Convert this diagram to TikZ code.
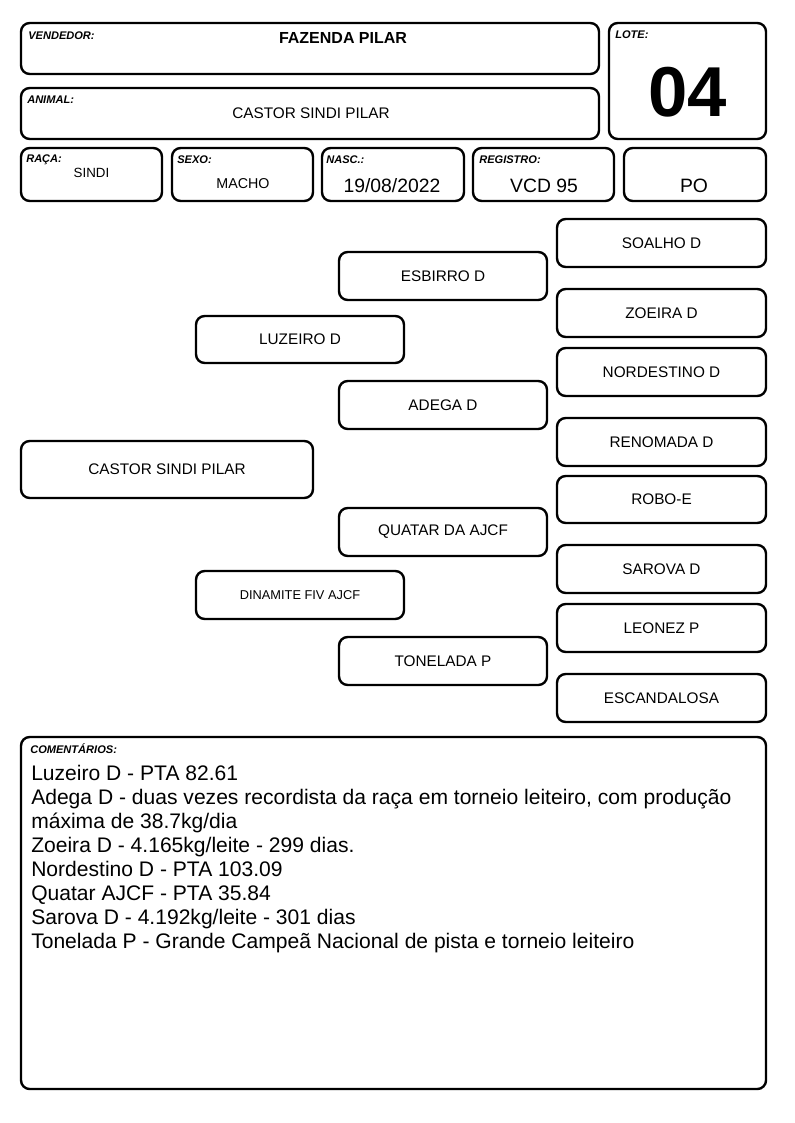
\documentclass[tikz,border=0pt]{standalone}
\usepackage{fontspec}
\setmainfont{Liberation Sans}
\newcommand\bx[7][]{\node[box,#1,minimum width={(#5-#3)*0.75pt},minimum height={(#6-#4)*0.75pt}] (#2) at ({(#3+#5)/2},{(#4+#6)/2}) {#7};}
\begin{document}
\begin{tikzpicture}[x=0.75pt,y=-0.75pt,
  box/.style={draw, line width=1.8pt, rounded corners=6.5pt, inner sep=0pt, align=center},
  lbl/.style={font=\fontsize{8.3}{9}\selectfont\bfseries\itshape, anchor=west, inner sep=0pt},
  ped/.style={font=\fontsize{11.5}{13}\selectfont},
  val/.style={inner sep=0pt},
  big/.style={inner sep=0pt, font=\fontsize{14.5}{16}\selectfont}]
\useasboundingbox (0,0) rectangle (794,1123);
% header boxes
\bx{vend}{21}{23}{599}{74}{}
\bx{lote}{609}{23}{766}{139}{}
\bx{anim}{21}{88}{599}{139}{}
\bx{raca}{21}{148}{162}{201}{}
\bx{sexo}{172}{148}{313}{201}{}
\bx{nasc}{322}{148}{464}{201}{}
\bx{regi}{473}{148}{614}{201}{}
\bx{po}{624}{148}{766}{201}{}
% header labels
\node[lbl] (lvend) at (28,35.5) {VENDEDOR:};
\node[lbl] (lanim) at (27,100) {ANIMAL:};
\node[lbl] (llote) at (615,35) {LOTE:};
\node[lbl] (lraca) at (26,160) {RAÇA:};
\node[lbl] (lsexo) at (177,160) {SEXO:};
\node[lbl] (lnasc) at (326,160) {NASC.:};
\node[lbl] (lregi) at (479,160) {REGISTRO:};
% header values
\node[val, font=\fontsize{12}{14}\selectfont\bfseries] (tvend) at (343,37.5) {FAZENDA PILAR};
\node[val, font=\fontsize{11.5}{13}\selectfont] (tanim) at (311,113) {CASTOR SINDI PILAR};
\node[val, font=\fontsize{53}{53}\selectfont\bfseries] (tlote) at (687.5,92.5) {04};
\node[val, font=\fontsize{10}{12}\selectfont] (traca) at (91.5,172.5) {SINDI};
\node[val, font=\fontsize{10.7}{12}\selectfont] (tsexo) at (243,183.5) {MACHO};
\node[big] (tnasc) at (392,186) {19/08/2022};
\node[big] (tregi) at (544,186) {VCD 95};
\node[big] (tpo) at (694,186) {PO};
% pedigree
\bx[ped]{animal}{21}{441}{313}{498}{CASTOR SINDI PILAR}
\bx[ped]{pai}{196}{316}{404}{363}{LUZEIRO D}
\bx[font=\fontsize{9.6}{11}\selectfont]{mae}{196}{571}{404}{619}{DINAMITE FIV AJCF}
\bx[ped]{avpp}{339}{252}{547}{300}{ESBIRRO D}
\bx[ped]{avpm}{339}{381}{547}{429}{ADEGA D}
\bx[ped]{avmp}{339}{508}{547}{556}{QUATAR DA AJCF}
\bx[ped]{avmm}{339}{637}{547}{685}{TONELADA P}
\bx[ped]{b1}{557}{219}{766}{267}{SOALHO D}
\bx[ped]{b2}{557}{289}{766}{337}{ZOEIRA D}
\bx[ped]{b3}{557}{348}{766}{396}{NORDESTINO D}
\bx[ped]{b4}{557}{418}{766}{466}{RENOMADA D}
\bx[ped]{b5}{557}{476}{766}{523}{ROBO-E}
\bx[ped]{b6}{557}{545}{766}{593}{SAROVA D}
\bx[ped]{b7}{557}{604}{766}{652}{LEONEZ P}
\bx[ped]{b8}{557}{674}{766}{722}{ESCANDALOSA}
% comments
\bx{coment}{21}{737}{766}{1089}{}
\node[lbl] (lcoment) at (30,749) {COMENTÁRIOS:};
\node[anchor=north west, inner sep=0pt, align=left, font=\fontsize{15.8}{18}\selectfont] (tcoment) at (31,765) {Luzeiro D - PTA 82.61\\
Adega D - duas vezes recordista da raça em torneio leiteiro, com produção\\
máxima de 38.7kg/dia\\
Zoeira D - 4.165kg/leite - 299 dias.\\
Nordestino D - PTA 103.09\\
Quatar AJCF - PTA 35.84\\
Sarova D - 4.192kg/leite - 301 dias\\
Tonelada P - Grande Campeã Nacional de pista e torneio leiteiro};
\end{tikzpicture}
\end{document}
